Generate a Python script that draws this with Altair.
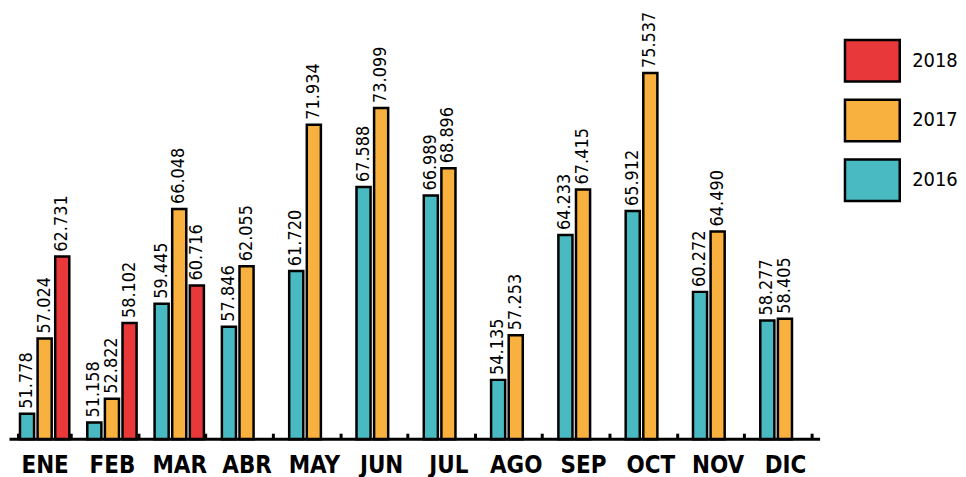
import altair as alt
import pandas as pd

months = ["ENE", "FEB", "MAR", "ABR", "MAY", "JUN", "JUL", "AGO", "SEP", "OCT", "NOV", "DIC"]
v2016 = [51.778, 51.158, 59.445, 57.846, 61.720, 67.588, 66.989, 54.135, 64.233, 65.912, 60.272, 58.277]
v2017 = [57.024, 52.822, 66.048, 62.055, 71.934, 73.099, 68.896, 57.253, 67.415, 75.537, 64.490, 58.405]
v2018 = [62.731, 58.102, 60.716]
years = ["2016", "2017", "2018"]
legend_order = ["2018", "2017", "2016"]
colors = ["#E8383A", "#F8B13E", "#4ABAC2"]

rows = []
for yr, vals in zip(years, [v2016, v2017, v2018]):
    for m, v in zip(months, vals):
        rows.append({"month": m, "year": yr, "value": v})
df = pd.DataFrame(rows)

FONT = "DejaVu Sans Condensed, sans-serif"

x = alt.X("month:N", sort=months,
          scale=alt.Scale(domain=months, paddingInner=0.215, paddingOuter=0.1075),
          axis=alt.Axis(title=None, labelAngle=0, tickBand="extent", domain=False,
                        offset=-6, tickSize=6, tickWidth=3, tickColor="black",
                        labelFont=FONT, labelFontSize=24, labelFontWeight="bold",
                        labelColor="black", labelPadding=14, grid=False))
xoff = alt.XOffset("year:N", sort=years,
                   scale=alt.Scale(domain=years, paddingInner=0.2, paddingOuter=0.1))
y = alt.Y("value:Q", scale=alt.Scale(domain=[50, 80], zero=False, nice=False),
          axis=None)

base = alt.Chart(df)

bars = base.mark_bar(stroke="black", strokeWidth=2.5, opacity=1).encode(
    x=x, xOffset=xoff, y=y, y2=alt.datum(50),
    color=alt.Color("year:N",
                    scale=alt.Scale(domain=legend_order, range=colors),
                    legend=alt.Legend(title=None, orient="none", legendX=836, legendY=23,
                                      padding=0,
                                      symbolType="M-1,-0.76L1,-0.76L1,0.76L-1,0.76Z",
                                      symbolSize=3025, symbolStrokeColor="black",
                                      symbolStrokeWidth=2.5, symbolOpacity=1,
                                      labelFont=FONT, labelFontSize=20, labelColor="black",
                                      labelOffset=11, rowPadding=5)),
)

labels = base.mark_text(angle=270, align="left", baseline="middle", dx=5,
                        font=FONT, fontSize=18, color="black").encode(
    x=x, xOffset=xoff, y=y, text=alt.Text("value:Q", format=".3f"),
)

baseline = alt.Chart(pd.DataFrame({"b": [50]})).mark_rule(
    color="black", strokeWidth=3, strokeCap="square").encode(y=alt.Y("b:Q"))

chart = alt.layer(bars, labels, baseline).properties(
    width=811, height=432, padding=0
).configure_view(stroke=None)

chart.save("out.html", embed_options={"renderer": "svg", "actions": False})
